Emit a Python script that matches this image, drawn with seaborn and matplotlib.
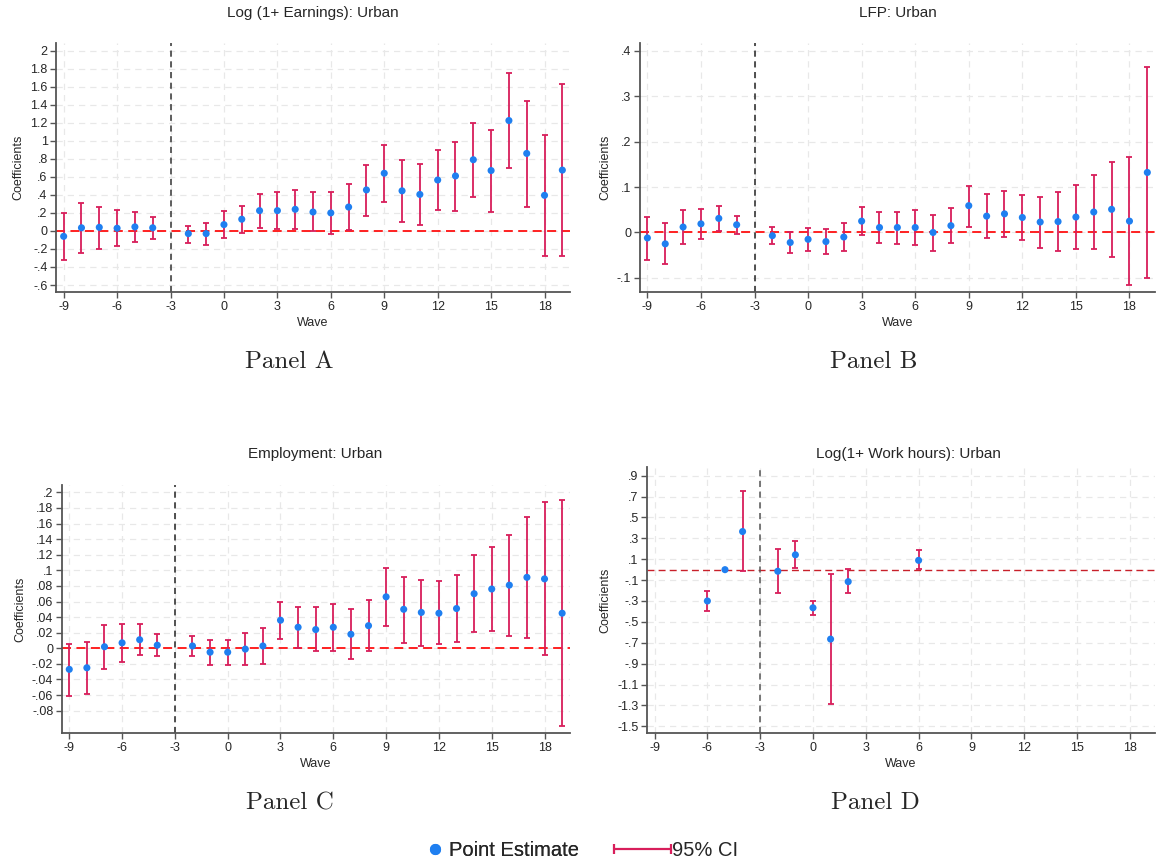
import numpy as np
import pandas as pd
import matplotlib
matplotlib.use("Agg")
import matplotlib.pyplot as plt
from matplotlib.lines import Line2D
from matplotlib.legend_handler import HandlerLine2D
import seaborn as sns

# ---- event-study estimates (wave relative to treatment; wave -3 is the omitted base) ----
waves = [-9, -8, -7, -6, -5, -4, -2, -1, 0, 1, 2, 3, 4, 5, 6, 7, 8, 9,
         10, 11, 12, 13, 14, 15, 16, 17, 18, 19]

earn_est = [-0.06, 0.035, 0.04, 0.03, 0.045, 0.035, -0.03, -0.03, 0.07, 0.13, 0.225, 0.225,
            0.24, 0.21, 0.20, 0.265, 0.455, 0.64, 0.445, 0.405, 0.565, 0.61, 0.79, 0.67,
            1.225, 0.86, 0.395, 0.675]
earn_lo = [-0.32, -0.24, -0.20, -0.17, -0.12, -0.085, -0.13, -0.16, -0.08, -0.025, 0.035, 0.02,
           0.025, -0.005, -0.03, 0.005, 0.17, 0.32, 0.10, 0.07, 0.23, 0.225, 0.375, 0.21,
           0.70, 0.27, -0.28, -0.28]
earn_hi = [0.20, 0.31, 0.27, 0.23, 0.205, 0.15, 0.06, 0.09, 0.22, 0.28, 0.41, 0.43,
           0.455, 0.43, 0.43, 0.52, 0.735, 0.955, 0.785, 0.74, 0.90, 0.99, 1.20, 1.125,
           1.75, 1.445, 1.065, 1.625]

lfp_est = [-0.012, -0.025, 0.012, 0.019, 0.031, 0.017, -0.007, -0.022, -0.015, -0.02, -0.01, 0.025,
           0.011, 0.011, 0.011, 0.0, 0.015, 0.059, 0.036, 0.041, 0.033, 0.023, 0.024, 0.034,
           0.045, 0.051, 0.025, 0.132]
lfp_lo = [-0.06, -0.07, -0.026, -0.014, 0.003, -0.004, -0.026, -0.044, -0.04, -0.048, -0.04, -0.006,
          -0.022, -0.025, -0.027, -0.04, -0.024, 0.013, -0.012, -0.009, -0.016, -0.033, -0.041, -0.037,
          -0.036, -0.054, -0.115, -0.10]
lfp_hi = [0.035, 0.02, 0.05, 0.052, 0.059, 0.037, 0.012, 0.0, 0.01, 0.007, 0.02, 0.056,
          0.045, 0.046, 0.05, 0.039, 0.054, 0.103, 0.084, 0.091, 0.082, 0.079, 0.088, 0.105,
          0.126, 0.155, 0.165, 0.364]

emp_est = [-0.027, -0.025, 0.002, 0.007, 0.011, 0.004, 0.003, -0.005, -0.005, -0.001, 0.003, 0.036,
           0.027, 0.024, 0.027, 0.018, 0.029, 0.066, 0.050, 0.046, 0.045, 0.051, 0.070, 0.076,
           0.081, 0.091, 0.089, 0.045]
emp_lo = [-0.061, -0.059, -0.026, -0.017, -0.008, -0.01, -0.01, -0.021, -0.022, -0.021, -0.02, 0.012,
          0.001, -0.004, -0.004, -0.014, -0.004, 0.028, 0.007, 0.003, 0.005, 0.008, 0.021, 0.022,
          0.016, 0.013, -0.009, -0.100]
emp_hi = [0.006, 0.008, 0.030, 0.031, 0.031, 0.018, 0.016, 0.010, 0.011, 0.019, 0.026, 0.060,
          0.053, 0.053, 0.057, 0.050, 0.062, 0.103, 0.092, 0.088, 0.086, 0.094, 0.120, 0.130,
          0.145, 0.169, 0.188, 0.190]

hours_waves = [-6, -5, -4, -2, -1, 0, 1, 2, 6]
hours_est = [-0.30, 0.0, 0.365, -0.015, 0.142, -0.365, -0.665, -0.115, 0.089]
hours_lo = [-0.40, np.nan, -0.015, -0.228, 0.012, -0.435, -1.287, -0.228, 0.008]
hours_hi = [-0.20, np.nan, 0.752, 0.197, 0.270, -0.297, -0.042, 0.003, 0.188]

x_ticks = list(range(-9, 19, 3))

PT_COLOR = "#1f7ff0"
CI_COLOR = "#d81e5b"

sns.set_theme(style="ticks")
plt.rcParams["font.family"] = ["Liberation Sans", "DejaVu Sans"]


def stata_fmt(v):
    s = f"{round(v, 3):g}"
    if s == "-0":
        s = "0"
    s = s.replace("-0.", "-.")
    if s.startswith("0."):
        s = s[1:]
    return s


def draw_panel(ax, wv, est, lo, hi, yticks, ylim, zero_color, zero_lw, vline_color):
    df = pd.DataFrame({"wave": wv, "est": est, "lo": lo, "hi": hi})
    ax.set_axisbelow(True)
    ax.grid(True, color="#e8e8e8", ls=(0, (5, 4)), lw=0.9)
    ax.axhline(0, color=zero_color, ls=(0, (5, 3)), lw=zero_lw, zorder=2)
    ax.axvline(-3, color=vline_color, ls=(0, (4, 3)), lw=1.1, zorder=2)
    ci = df.dropna()
    ax.errorbar(ci["wave"], ci["est"],
                yerr=[ci["est"] - ci["lo"], ci["hi"] - ci["est"]],
                fmt="none", ecolor=CI_COLOR, elinewidth=1.3, capsize=2.2,
                capthick=1.3, zorder=3)
    sns.scatterplot(data=df, x="wave", y="est", color=PT_COLOR, s=26,
                    edgecolor="none", ax=ax, zorder=4, legend=False)
    ax.set_xlim(-9.43, 19.43)
    ax.set_ylim(*ylim)
    ax.set_xticks(x_ticks)
    ax.set_xticklabels([str(t) for t in x_ticks])
    ax.set_yticks(yticks)
    ax.set_yticklabels([stata_fmt(t) for t in yticks])
    ax.set_xlabel("Wave", fontsize=9, labelpad=3)
    ax.set_ylabel("Coefficients", fontsize=9, labelpad=4)
    ax.tick_params(labelsize=9, length=4, width=1, color="#555555", pad=2)
    for side in ("top", "right"):
        ax.spines[side].set_visible(False)
    for side in ("left", "bottom"):
        ax.spines[side].set_color("#555555")
        ax.spines[side].set_linewidth(1.3)


W, H = 1156, 865
fig = plt.figure(figsize=(W / 100, H / 100), dpi=100)


def px_axes(left, top, right, bottom):
    return fig.add_axes([left / W, 1 - bottom / H, (right - left) / W, (bottom - top) / H])


axA = px_axes(56, 43.3, 570, 292.3)
axB = px_axes(639.7, 43.3, 1155, 292.3)
axC = px_axes(61.7, 485, 569.7, 733.3)
axD = px_axes(647, 467, 1155, 733.3)

draw_panel(axA, waves, earn_est, earn_lo, earn_hi,
           np.round(np.arange(-0.6, 2.01, 0.2), 2), (-0.681, 2.082), "#ff1010", 1.3, "#333333")
draw_panel(axB, waves, lfp_est, lfp_lo, lfp_hi,
           np.round(np.arange(-0.1, 0.41, 0.1), 2), (-0.1315, 0.416), "#ff1010", 1.3, "#222222")
draw_panel(axC, waves, emp_est, emp_lo, emp_hi,
           np.round(np.arange(-0.08, 0.201, 0.02), 2), (-0.109, 0.2094), "#ff1010", 1.3, "#222222")
draw_panel(axD, hours_waves, hours_est, hours_lo, hours_hi,
           np.round(np.arange(-1.5, 0.91, 0.2), 2), (-1.567, 0.983), "#c8202a", 1.0, "#555555")

# panel titles
fig.text(313 / W, 1 - 13 / H, "Log (1+ Earnings): Urban", ha="center", va="center", fontsize=11)
fig.text(898 / W, 1 - 13 / H, "LFP: Urban", ha="center", va="center", fontsize=11)
fig.text(315 / W, 1 - 454 / H, "Employment: Urban", ha="center", va="center", fontsize=11)
fig.text(908 / W, 1 - 454 / H, "Log(1+ Work hours): Urban", ha="center", va="center", fontsize=11)

# panel captions
for xc, yc, lab in [(289, 362, "Panel A"), (874, 362, "Panel B"),
                    (290, 803, "Panel C"), (875, 803, "Panel D")]:
    fig.text(xc / W, 1 - yc / H, lab, ha="center", va="center", fontsize=18, family="cmr10")

# shared legend
pt_handle = Line2D([], [], ls="none", marker="o", color=PT_COLOR, markersize=7)
ci_handle = Line2D([], [], color=CI_COLOR, lw=1.6, marker="|", markersize=7,
                   markeredgewidth=1.6)
leg1 = fig.legend([pt_handle], ["Point Estimate"], loc="center",
                  bbox_to_anchor=(502 / W, 1 - 851 / H), frameon=False, fontsize=14.5,
                  handlelength=1.0, handletextpad=0.2, borderpad=0)
fig.add_artist(leg1)
fig.legend([ci_handle], ["95% CI"], loc="center",
           bbox_to_anchor=(676 / W, 1 - 851 / H), frameon=False, fontsize=14.5,
           handlelength=2.8, handletextpad=0.05, borderpad=0,
           handler_map={ci_handle: HandlerLine2D(numpoints=2, marker_pad=0)})

fig.savefig("out.png", dpi=100)
